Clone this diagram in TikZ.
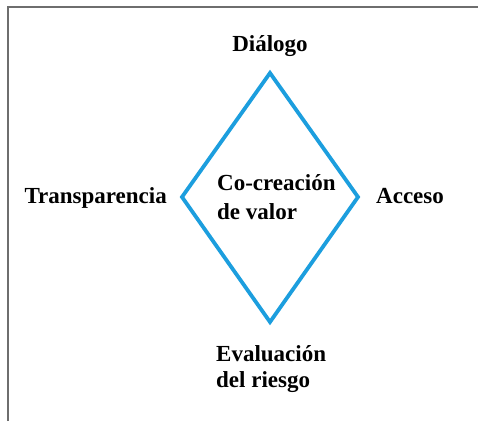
\documentclass[tikz,border=0pt]{standalone}
\usepackage{fontspec}
\setmainfont{Liberation Serif}
\definecolor{rombo}{RGB}{28,158,222}
\definecolor{marco}{RGB}{110,110,110}

\begin{document}
\begin{tikzpicture}[x=1pt, y=1pt,
    etiqueta/.style={font=\bfseries\fontsize{23}{29}\selectfont, inner sep=0pt}]
    \useasboundingbox (0,0) rectangle (478,421);
    % marco
    \draw[marco, line width=1.5pt] (8,0) -- (8,414) -- (478,414);
    % rombo
    \coordinate (arriba) at (270,348);
    \coordinate (derecha) at (358,224);
    \coordinate (abajo) at (270,99);
    \coordinate (izquierda) at (182,224);
    \draw[rombo, line width=3.8pt, line join=miter]
        (arriba) -- (derecha) -- (abajo) -- (izquierda) -- cycle;
    % textos
    \node[etiqueta, anchor=base] (dialogo) at (270,369) {Diálogo};
    \node[etiqueta, anchor=base east] (transparencia) at (167,218) {Transparencia};
    \node[etiqueta, anchor=base west] (acceso) at (376,218) {Acceso};
    \node[etiqueta, anchor=base west, align=left] (cocreacion) at (217,202) {Co-creación\\de valor};
    \node[etiqueta, anchor=base west, align=left,
        font=\bfseries\fontsize{23}{26}\selectfont] (evaluacion) at (216,34) {Evaluación\\del riesgo};
\end{tikzpicture}
\end{document}
